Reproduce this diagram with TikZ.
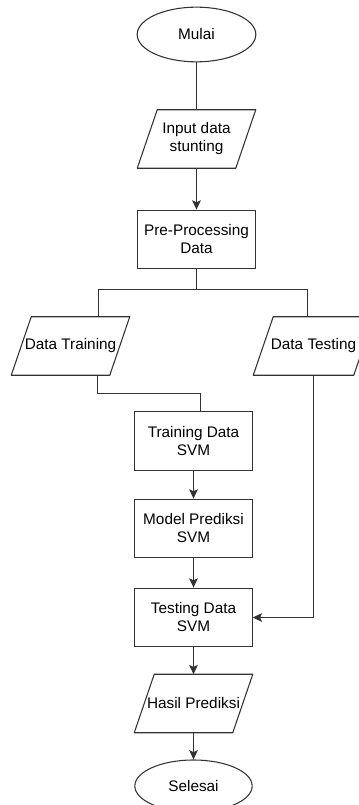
\documentclass[tikz,border=0pt]{standalone}
\usepackage{fontspec}
\setmainfont{Liberation Sans}
\usetikzlibrary{shapes.geometric,arrows.meta}
\definecolor{linegray}{HTML}{333333}
\begin{document}
\begin{tikzpicture}[x=0.75pt, y=-0.75pt, font=\fontsize{11.5}{13.5}\selectfont,
  base/.style={draw=linegray, line width=0.8pt, align=center, inner sep=1pt},
  terminal/.style={base, ellipse, minimum width=88pt, minimum height=41pt},
  proc/.style={base, rectangle, minimum width=88pt, minimum height=44pt},
  io/.style={align=center, inner sep=1pt, minimum width=73.5pt, minimum height=43.5pt},
  link/.style={draw=linegray, line width=0.8pt},
  arr/.style={link, -{Stealth[length=7pt, width=6.5pt, inset=1.5pt]}}]
\useasboundingbox (0,0) rectangle (359,805);
\node[terminal, minimum width=89pt] (mulai) at (196.5,34.5) {Mulai};
\node[io] (input) at (196.5,139) {Input data\\stunting};
\node[proc] (pre) at (196.5,239.5) {Pre-Processing\\Data};
\node[io] (train) at (70.5,346) {Data Training};
\node[io, minimum width=75pt] (test) at (313.5,346) {Data Testing};
\node[proc] (tsvm) at (193.5,441) {Training Data\\SVM};
\node[proc] (model) at (193.5,528.5) {Model Prediksi\\SVM};
\node[proc] (tdata) at (193.5,617.5) {Testing Data\\SVM};
\node[io] (hasil) at (193.5,703.5) {Hasil Prediksi};
\node[terminal, minimum height=39pt] (selesai) at (193.5,786) {Selesai};
\foreach \n in {input,train,test,hasil}
  \draw[link, line join=round] ([xshift=-7.5pt]\n.south west) -- ([xshift=7.5pt]\n.north west) -- ([xshift=7.5pt]\n.north east) -- ([xshift=-7.5pt]\n.south east) -- cycle;
\coordinate (splitL) at (98.5,289.5);
\coordinate (splitR) at (307.5,289.5);
\coordinate (tbend) at (97.5,393.5);
\coordinate (tin) at (200.5,393.5);
\draw[link] (mulai) -- (input);
\draw[arr] (input) -- (pre);
\draw[link] (pre) -- (pre |- splitL);
\draw[link] (splitL |- train.north) -- (splitL) -- (splitR) -- (splitR |- test.north);
\draw[link] (tbend |- train.south) -- (tbend) -- (tin) -- (tin |- tsvm.north);
\draw[arr] (tsvm) -- (model);
\draw[arr] (model) -- (tdata);
\draw[arr] (test.south) |- (tdata.east);
\draw[arr] (tdata) -- (hasil);
\draw[arr] (hasil) -- (selesai);
\end{tikzpicture}
\end{document}
